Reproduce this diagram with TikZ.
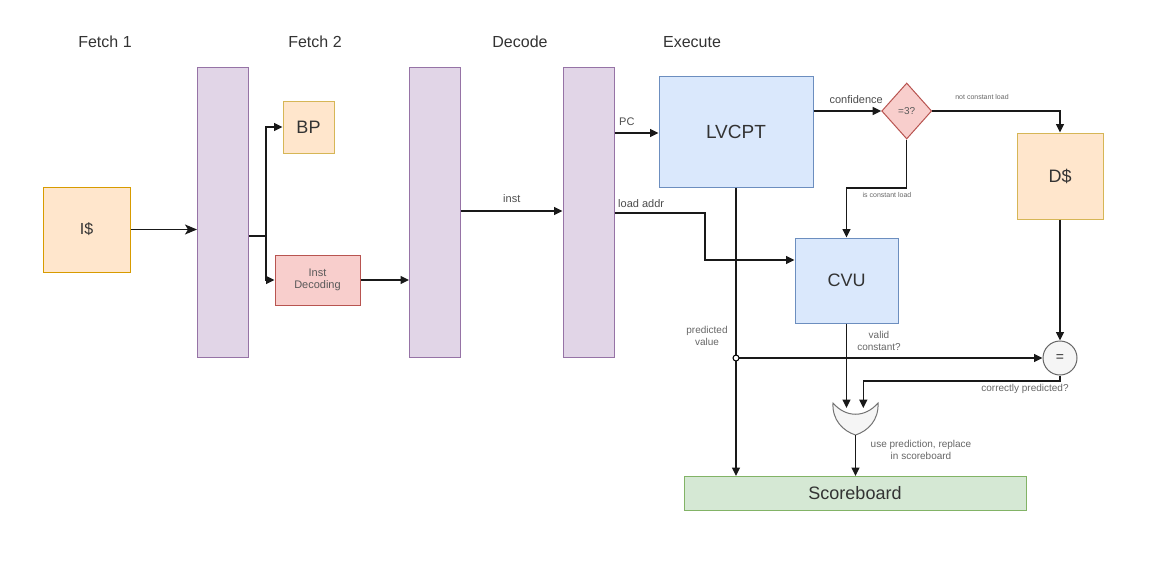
\documentclass[tikz,border=0pt]{standalone}
\usepackage{fontspec}
\setmainfont{Liberation Sans}
\usetikzlibrary{arrows.meta,shapes.geometric}
\definecolor{regfill}{HTML}{E1D5E7}\definecolor{regdraw}{HTML}{9673A6}
\definecolor{orfill}{HTML}{FFE6CC}\definecolor{ordraw}{HTML}{D6B656}
\definecolor{icdraw}{HTML}{D79B00}
\definecolor{rdfill}{HTML}{F8CECC}\definecolor{rddraw}{HTML}{B85450}
\definecolor{blfill}{HTML}{DAE8FC}\definecolor{bldraw}{HTML}{6C8EBF}
\definecolor{grfill}{HTML}{D5E8D4}\definecolor{grdraw}{HTML}{82B366}
\definecolor{gyfill}{HTML}{F5F5F5}\definecolor{gydraw}{HTML}{666666}
\newcommand{\fs}[1]{\fontsize{#1}{#1}\selectfont}
\begin{document}
\begin{tikzpicture}[x=1pt,y=-1pt,
  box/.style={draw, line width=1pt, inner sep=0pt, align=center, text=black!80},
  pipereg/.style={box, fill=regfill, draw=regdraw, minimum width=51pt, minimum height=290pt},
  orbox/.style={box, fill=orfill, draw=ordraw},
  rdbox/.style={box, fill=rdfill, draw=rddraw},
  blbox/.style={box, fill=blfill, draw=bldraw},
  conn/.style={line width=1.4pt, black!90},
  arr/.style={conn, -{Triangle[length=8.5pt,width=8pt]}},
  bigarr/.style={conn, -{Stealth[length=12pt,width=10pt,inset=3pt]}},
  title/.style={font=\fs{16}, text=black!80},
  lbl/.style={font=\fs{11}, text=black!70, inner sep=0pt},
  tiny/.style={font=\fs{7}, text=black!60, inner sep=0pt},
  small/.style={font=\fs{10}, text=black!60, inner sep=0pt, align=center}]
\useasboundingbox (0,0) rectangle (1160,560);

% titles
\node[title] (t1) at (105,42) {Fetch 1};
\node[title] (t2) at (315,42) {Fetch 2};
\node[title] (t3) at (520,42) {Decode};
\node[title] (t4) at (692,42) {Execute};

% blocks
\node[orbox, draw=icdraw, minimum width=87pt, minimum height=85pt, font=\fs{16}] (icache) at (86.5,229.5) {I\$};
\node[pipereg] (reg1) at (223,212) {};
\node[orbox, minimum width=51pt, minimum height=52pt, font=\fs{18}] (bp) at (308.5,127) {BP};
\node[rdbox, minimum width=85pt, minimum height=50pt, font=\fs{11}, text=black!65] (dec) at (317.5,280) {Inst\\[1pt]Decoding};
\node[pipereg] (reg2) at (435,212) {};
\node[pipereg] (reg3) at (588.5,212) {};
\node[blbox, minimum width=154pt, minimum height=111pt, font=\fs{19}] (lvcpt) at (736,131.5) {LVCPT};
\node[box, shape=diamond, fill=rdfill, draw=rddraw, minimum width=50pt, minimum height=56pt, font=\fs{10}, text=black!65] (dia) at (906.7,111) {=3?};
\node[orbox, minimum width=86pt, minimum height=86pt, font=\fs{18}] (dcache) at (1060,176) {D\$};
\node[blbox, minimum width=103pt, minimum height=85pt, font=\fs{18}] (cvu) at (846.5,280.5) {CVU};
\node[box, shape=circle, fill=gyfill, draw=gydraw, minimum size=34pt, font=\fs{14}] (eq) at (1060,358) {=};
\node[box, fill=grfill, draw=grdraw, minimum width=342pt, minimum height=34pt, font=\fs{18}] (sb) at (855,493.5) {Scoreboard};

% OR gate (pointing down)
\coordinate (orin1) at (846.5,408);
\coordinate (orin2) at (863.3,408);
\coordinate (orout) at (855.5,435);
\draw[fill=gyfill, draw=black!55, line width=1pt]
  (833,403) .. controls (846,418) and (865,418) .. (878,403)
  .. controls (879,420) and (868,431) .. (orout)
  .. controls (843,431) and (832,420) .. (833,403) -- cycle;

% connectors
\coordinate (split) at (266,236);
\draw[bigarr] (icache.east) -- (icache.east -| reg1.west);
\draw[conn] (reg1.east |- split) -- (split);
\draw[arr] (split) |- (bp.west);
\draw[arr] (split) |- (dec.west);
\draw[arr] (dec.east) -- (dec.east -| reg2.west);
\coordinate (instc) at (0,211);
\draw[arr] (reg2.east |- instc) -- (reg3.west |- instc) node[lbl, midway, above=8pt] {inst};
\coordinate (pcc) at (0,133);
\draw[arr] (reg3.east |- pcc) -- (lvcpt.west |- pcc);
\node[lbl, anchor=west] (pcl) at (619,122) {PC};
\draw[arr] (lvcpt.east |- dia) -- (dia.west);
\node[lbl, anchor=south east] (confl) at (883,104) {confidence};
\draw[arr] (dia.east) -| (dcache.north);
\node[tiny] (ncl) at (982,97) {not constant load};
\coordinate (isc) at (846.5,188);
\draw[arr] (dia.south) |- (isc) -- (cvu.north);
\node[tiny] (icl) at (887,195) {is constant load};
\coordinate (la1) at (705,213);
\coordinate (la2) at (705,260);
\draw[arr] (reg3.east |- la1) -- (la1) -- (la2) -- (la2 -| cvu.west);
\node[lbl, anchor=west] (lal) at (618,204) {load addr};

\coordinate (jn) at (736,358);
\draw[arr] (lvcpt.south) -- (lvcpt.south |- sb.north);
\draw[arr] (jn) -- (eq.west);
\node[draw, circle, fill=white, line width=1pt, minimum size=6pt, inner sep=0pt] (jdot) at (jn) {};
\node[small] (pvl) at (707,336) {predicted\\[2pt]value};
\draw[arr] (dcache.south) -- (eq.north);
\draw[arr] (cvu.south) -- (orin1);
\node[small] (vcl) at (879,341) {valid\\[2pt]constant?};
\coordinate (cp) at (1060,381);
\draw[arr] (eq.south) -- (cp) -| (orin2);
\node[small] (cpl) at (1025,389) {correctly predicted?};
\draw[arr] (orout) -- (orout |- sb.north);
\node[small] (upl) at (921,450) {use prediction, replace\\[2pt]in scoreboard};
\end{tikzpicture}
\end{document}
